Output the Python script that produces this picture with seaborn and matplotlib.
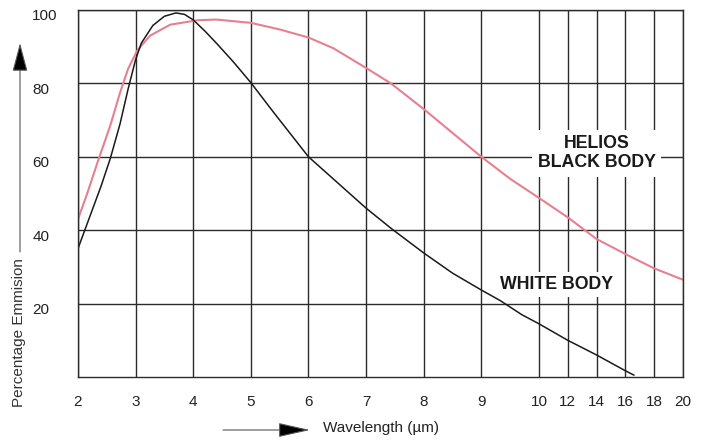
import numpy as np
import matplotlib
matplotlib.use('Agg')
import matplotlib.pyplot as plt
import matplotlib.transforms as mtransforms
from matplotlib.patches import FancyArrowPatch
import seaborn as sns

# Curves (wavelength in um, emission in %)
white_x = [2.0, 2.2, 2.4, 2.56, 2.73, 2.87, 3.0, 3.1, 3.3, 3.5, 3.7, 3.85, 4.0, 4.2, 4.4, 4.7,
           5.0, 5.4, 6.0, 6.5, 7.0, 7.45, 8.0, 8.5, 9.0, 9.33, 9.7, 10, 12, 14, 16, 16.6]
white_y = [35, 43.5, 52, 59.5, 69, 78.5, 86.5, 91, 95.8, 98.3, 99.2, 98.8, 97.3, 94.3, 91, 85.8,
           80.2, 72, 60, 53, 46, 40.3, 33.8, 28.3, 23.7, 20.8, 17, 14.5, 10, 6, 1.7, 0.5]

helios_x = [2.0, 2.16, 2.35, 2.56, 2.73, 2.87, 3.03, 3.25, 3.6, 4.07, 4.4, 5.0,
            5.5, 6.0, 6.43, 7.0, 7.43, 8.0, 8.5, 9.0, 9.5, 10, 12, 14, 16, 18, 20]
helios_y = [43, 50, 59, 68.5, 77.5, 84, 89, 93, 96, 97.2, 97.4, 96.5,
            94.7, 92.5, 89.6, 84.2, 80, 73, 66.5, 60, 54, 48.8, 43.5, 37.6, 33.5, 29.6, 26.5]

x_ticks = [2, 3, 4, 5, 6, 7, 8, 9, 10, 12, 14, 16, 18, 20]
y_ticks = [20, 40, 60, 80, 100]


# axis is linear up to 10 um, then compressed 4x
def fwd(x):
    x = np.asarray(x, dtype=float)
    return np.where(x <= 10, x, 10 + (x - 10) / 4)


def inv(u):
    u = np.asarray(u, dtype=float)
    return np.where(u <= 10, u, 10 + (u - 10) * 4)


sns.set_theme(style='white')
plt.rcParams['font.family'] = ['Liberation Sans', 'DejaVu Sans']

fig = plt.figure(figsize=(7.04, 4.4), dpi=100)
ax = fig.add_axes([78 / 704, 1 - 377 / 440, (683 - 78) / 704, (377 - 10) / 440])

sns.lineplot(x=helios_x, y=helios_y, ax=ax, color='#e6808f', lw=1.5, estimator=None)
sns.lineplot(x=white_x, y=white_y, ax=ax, color='#1a1a1a', lw=1.1, estimator=None)

ax.set_xscale('function', functions=(fwd, inv))
ax.set_xlim(2, 20)
ax.set_ylim(0, 100)
ax.set_xticks(x_ticks)
ax.set_xticklabels([str(t) for t in x_ticks])
ax.set_yticks(y_ticks)
ax.set_yticklabels([str(t) for t in y_ticks])
ax.minorticks_off()

ax.grid(True, color='#2b2b2b', lw=1.0)
ax.set_axisbelow(True)
for s in ax.spines.values():
    s.set_color('#2b2b2b')
    s.set_linewidth(1.0)

ax.tick_params(axis='x', length=0, pad=13, labelsize=11, colors='#222222')
ax.tick_params(axis='y', length=0, pad=33, labelsize=11, colors='#222222')
for lab in ax.get_yticklabels():
    lab.set_horizontalalignment('left')
    lab.set_transform(lab.get_transform() +
                      mtransforms.ScaledTranslation(0, -5 / 100, fig.dpi_scale_trans))

ax.set_xlabel('')
ax.set_ylabel('')

ax.text(14, 61, 'HELIOS\nBLACK BODY', ha='center', va='center', fontsize=12.8,
        fontweight='bold', color='#1a1a1a', linespacing=1.15,
        bbox=dict(facecolor='white', edgecolor='none', pad=4))
ax.text(11.25, 25.3, 'WHITE BODY', ha='center', va='center', fontsize=12.8,
        fontweight='bold', color='#1a1a1a',
        bbox=dict(facecolor='white', edgecolor='none', pad=3))

# axis titles with arrows, placed in figure pixels
fig.text(19 / 704, 1 - 333 / 440, 'Percentage Emmision', rotation=90,
         ha='center', va='center', fontsize=11, color='#333333')
fig.text(323 / 704, 1 - 428 / 440, 'Wavelength (\u00b5m)', ha='left', va='center',
         fontsize=11, color='#222222')

pix = fig.transFigure
fig.patches.append(FancyArrowPatch((20 / 704, 1 - 252 / 440), (20 / 704, 1 - 43 / 440),
                                   transform=pix, arrowstyle='-|>,head_length=1.8,head_width=0.48',
                                   mutation_scale=10, lw=0.8, color='#555555',
                                   shrinkA=0, shrinkB=0))
fig.patches.append(FancyArrowPatch((223 / 704, 1 - 430 / 440), (310 / 704, 1 - 430 / 440),
                                   transform=pix, arrowstyle='-|>,head_length=2.0,head_width=0.45',
                                   mutation_scale=10, lw=0.8, color='#555555',
                                   shrinkA=0, shrinkB=0))
for p in fig.patches:
    p.set_facecolor('black')

fig.savefig('out.png', dpi=100)
